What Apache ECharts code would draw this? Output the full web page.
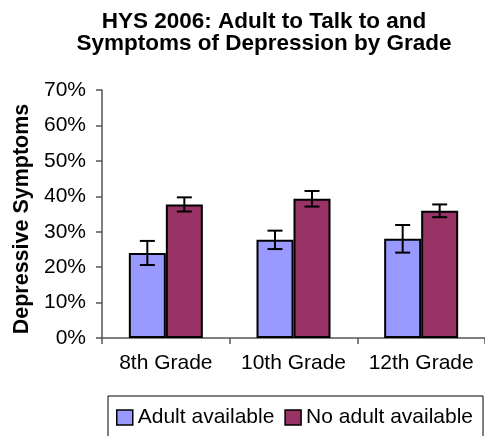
<!DOCTYPE html>
<html>
<head>
<meta charset="utf-8">
<script src="https://cdn.jsdelivr.net/npm/echarts@6/dist/echarts.min.js"></script>
<style>
  html, body { margin: 0; padding: 0; background: #fff; }
  #main { width: 485px; height: 436px; }
</style>
</head>
<body>
<div id="main"></div>
<script>
// data (percent)
var grades = ['8th Grade', '10th Grade', '12th Grade'];
var adultAvail = [24.0, 27.7, 28.0];
var noAdult = [37.7, 39.3, 35.9];
var adultErr = [3.4, 2.6, 3.9];
var noAdultErr = [2.0, 2.2, 1.8];
var yTicks = [0, 10, 20, 30, 40, 50, 60, 70];

var myChart = echarts.init(document.getElementById('main'));

var FONT = 'Liberation Sans, Arial, sans-serif';
var BAR_W = 37;

// error bar drawn on top of each bar
function errorSeries(values, errs, offset) {
    var data = values.map(function (v, i) { return [i, v - errs[i], v + errs[i]]; });
    return {
        type: 'custom',
        z: 10,
        silent: true,
        data: data,
        renderItem: function (params, api) {
            var lo = api.coord([api.value(0), api.value(1)]);
            var hi = api.coord([api.value(0), api.value(2)]);
            var x = lo[0] + offset;
            var cap = 7.5;
            var style = { stroke: '#000', lineWidth: 2 };
            return {
                type: 'group',
                children: [
                    { type: 'line', shape: { x1: x, y1: hi[1], x2: x, y2: lo[1] }, style: style },
                    { type: 'line', shape: { x1: x - cap, y1: hi[1], x2: x + cap, y2: hi[1] }, style: style },
                    { type: 'line', shape: { x1: x - cap, y1: lo[1], x2: x + cap, y2: lo[1] }, style: style }
                ]
            };
        }
    };
}

var option = {
    animation: false,
    backgroundColor: '#fff',
    textStyle: { fontFamily: FONT, color: '#000' },
    title: {
        text: 'HYS 2006: Adult to Talk to and\nSymptoms of Depression by Grade',
        left: 264,
        top: 11,
        padding: 0,
        textAlign: 'center',
        textStyle: { fontFamily: FONT, fontSize: 22.5, fontWeight: 'bold', lineHeight: 22, color: '#000' }
    },
    grid: { left: 102, right: -7, top: 90, bottom: 98, containLabel: false },
    legend: {
        left: 108,
        top: 396,
        orient: 'horizontal',
        padding: [11, 10, 40, 8],
        itemGap: 10,
        itemWidth: 16,
        itemHeight: 15,
        borderColor: '#000',
        borderWidth: 1,
        icon: 'rect',
        itemStyle: { borderColor: '#000', borderWidth: 1.5 },
        textStyle: { fontFamily: FONT, fontSize: 21, color: '#000' },
        data: ['Adult available', 'No adult available']
    },
    xAxis: {
        type: 'category',
        data: grades,
        axisLine: { lineStyle: { color: '#555', width: 1.5 } },
        axisTick: { show: true, length: 6, lineStyle: { color: '#555', width: 1.5 } },
        axisLabel: { fontFamily: FONT, fontSize: 21, color: '#000', margin: 15, interval: 0, hideOverlap: false }
    },
    yAxis: {
        type: 'value',
        min: yTicks[0],
        max: yTicks[yTicks.length - 1],
        interval: 10,
        name: 'Depressive Symptoms',
        nameLocation: 'middle',
        nameRotate: 90,
        nameGap: 68,
        nameTextStyle: { fontFamily: FONT, fontSize: 21.5, fontWeight: 'bold', color: '#000', padding: [0, 10, 0, 0] },
        axisLine: { show: true, lineStyle: { color: '#555', width: 1.5 } },
        axisTick: { show: true, length: 6, lineStyle: { color: '#555', width: 1.5 } },
        axisLabel: { fontFamily: FONT, fontSize: 21, color: '#000', margin: 16, formatter: '{value}%' },
        splitLine: { show: false }
    },
    series: [
        {
            name: 'Adult available',
            type: 'bar',
            data: adultAvail,
            barWidth: BAR_W,
            barGap: '0%',
            itemStyle: { color: '#9999FF', borderColor: '#000', borderWidth: 2 }
        },
        {
            name: 'No adult available',
            type: 'bar',
            data: noAdult,
            barWidth: BAR_W,
            barGap: '0%',
            itemStyle: { color: '#993366', borderColor: '#000', borderWidth: 2 }
        },
        errorSeries(adultAvail, adultErr, -BAR_W / 2),
        errorSeries(noAdult, noAdultErr, BAR_W / 2)
    ]
};

myChart.setOption(option);
</script>
</body>
</html>
